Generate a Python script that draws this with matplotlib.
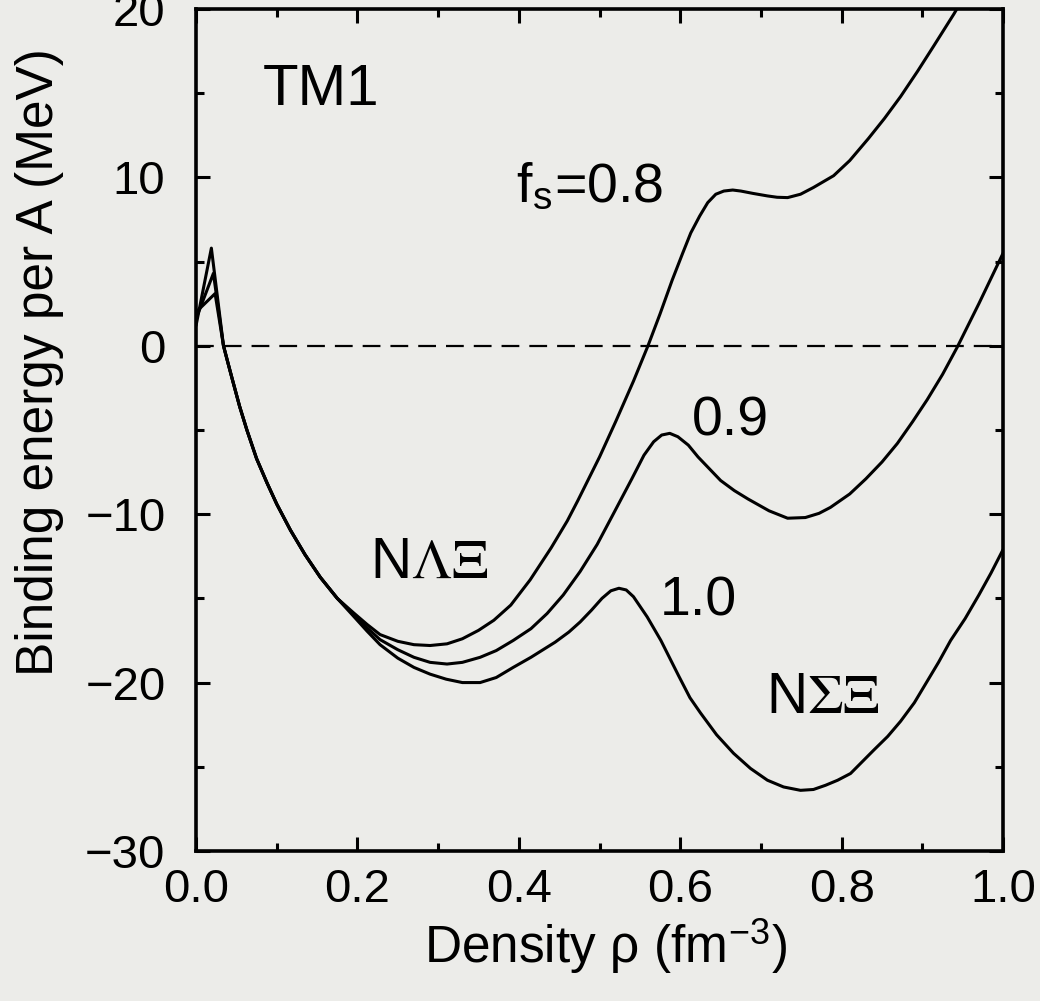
import matplotlib
matplotlib.use("Agg")
import matplotlib.pyplot as plt
from matplotlib.ticker import MultipleLocator

# binding energy per baryon vs density, TM1, three values of f_s
# shared low-density branch where the three curves coincide
rho_low = [0.034, 0.040, 0.045, 0.054, 0.063, 0.075, 0.088, 0.100, 0.117, 0.135, 0.154, 0.175]
e_low = [0.0, -1.1, -2.0, -3.6, -5.0, -6.7, -8.15, -9.4, -10.95, -12.4, -13.75, -15.0]

rho_08 = [0.0, 0.019] + rho_low + [
    0.195, 0.212, 0.228, 0.25, 0.27, 0.29, 0.311, 0.33, 0.35, 0.369, 0.39, 0.414, 0.44, 0.46, 0.473,
    0.50, 0.52, 0.542, 0.56, 0.575, 0.59, 0.603, 0.613, 0.624, 0.634, 0.644, 0.654,
    0.665, 0.675, 0.69, 0.708, 0.72, 0.733, 0.749, 0.765, 0.79, 0.81, 0.833, 0.853,
    0.873, 0.894, 0.914, 0.939, 0.95]
e_08 = [1.2, 5.8] + e_low + [
    -15.85, -16.55, -17.15, -17.55, -17.75, -17.8, -17.7, -17.4, -16.9, -16.3, -15.4, -13.9, -12.0, -10.4, -9.2,
    -6.6, -4.5, -2.1, 0.0, 1.9, 3.9, 5.5, 6.7, 7.7, 8.5, 9.0, 9.19,
    9.25, 9.19, 9.05, 8.9, 8.82, 8.8, 9.0, 9.4, 10.1, 11.0, 12.3, 13.5,
    14.8, 16.3, 17.8, 19.7, 20.6]

rho_09 = [0.0, 0.0215] + rho_low + [
    0.195, 0.212, 0.228, 0.25, 0.27, 0.29, 0.311, 0.33, 0.352, 0.372, 0.393, 0.415, 0.435, 0.455, 0.476,
    0.497, 0.518, 0.54, 0.555, 0.567, 0.577, 0.587, 0.597, 0.61, 0.622, 0.636, 0.65,
    0.667, 0.684, 0.71, 0.733, 0.755, 0.772, 0.786, 0.81, 0.83, 0.85, 0.869, 0.888,
    0.906, 0.925, 0.943, 0.97, 1.0]
e_09 = [1.6, 4.3] + e_low + [
    -15.95, -16.75, -17.45, -18.05, -18.5, -18.8, -18.9, -18.8, -18.5, -18.1, -17.5, -16.8, -15.9, -14.8, -13.4,
    -11.8, -9.9, -7.9, -6.5, -5.7, -5.3, -5.2, -5.4, -5.9, -6.6, -7.3, -8.0,
    -8.6, -9.1, -9.8, -10.24, -10.2, -9.95, -9.6, -8.8, -7.9, -6.9, -5.8, -4.5,
    -3.2, -1.7, -0.1, 2.5, 5.5]

rho_10 = [0.0, 0.0236] + rho_low + [
    0.195, 0.212, 0.228, 0.25, 0.27, 0.29, 0.31, 0.33, 0.352, 0.372, 0.393, 0.415, 0.445, 0.462, 0.476,
    0.49, 0.503, 0.514, 0.524, 0.533, 0.542, 0.559, 0.576, 0.598, 0.612, 0.625, 0.645,
    0.666, 0.687, 0.708, 0.728, 0.749, 0.765, 0.78, 0.795, 0.811, 0.84, 0.857, 0.873,
    0.89, 0.905, 0.92, 0.935, 0.953, 0.97, 0.985, 1.0]
e_10 = [2.0, 3.1] + e_low + [
    -16.05, -16.95, -17.75, -18.55, -19.1, -19.5, -19.8, -20.0, -20.0, -19.7, -19.1, -18.5, -17.6, -17.0, -16.4,
    -15.7, -15.0, -14.55, -14.4, -14.5, -14.9, -16.1, -17.5, -19.6, -20.9, -21.8, -23.1,
    -24.2, -25.1, -25.8, -26.2, -26.4, -26.35, -26.1, -25.8, -25.4, -24.0, -23.2, -22.3,
    -21.2, -20.0, -18.8, -17.5, -16.2, -14.8, -13.5, -12.1]

plt.rcParams['font.family'] = ['Liberation Sans', 'DejaVu Sans']
plt.rcParams['mathtext.fontset'] = 'stix'

bg = '#ecece9'
fig = plt.figure(figsize=(10.4, 10.01), dpi=100, facecolor=bg)
ax = fig.add_axes([0.1885, 0.1499, 0.776, 0.8411], facecolor=bg)

for x, y in [(rho_08, e_08), (rho_09, e_09), (rho_10, e_10)]:
    ax.plot(x, y, color='black', lw=2.2, solid_joinstyle='round', solid_capstyle='round')

ax.axhline(0, color='black', lw=1.6, dashes=(8, 4.5))

ax.set_xlim(0, 1.0)
ax.set_ylim(-30, 20)
ax.xaxis.set_major_locator(MultipleLocator(0.2))
ax.xaxis.set_minor_locator(MultipleLocator(0.1))
ax.yaxis.set_major_locator(MultipleLocator(10))
ax.yaxis.set_minor_locator(MultipleLocator(5))
ax.xaxis.set_major_formatter(plt.FuncFormatter(lambda v, p: '%.1f' % v))
ax.tick_params(which='both', direction='in', top=True, right=True, width=2.2, labelsize=34)
ax.tick_params(which='major', length=10)
ax.tick_params(which='minor', length=6)
ax.tick_params(axis='x', pad=12)
ax.tick_params(axis='y', pad=22)
for s in ax.spines.values():
    s.set_linewidth(2.6)

ax.set_xlabel('Density ρ (fm$^{\\mathregular{-3}}$)', fontsize=37)
ax.xaxis.set_label_coords(0.507, -0.078)
ax.set_ylabel('Binding energy per A (MeV)', fontsize=37)
ax.yaxis.set_label_coords(-0.163, 0.58)

ax.text(0.083, 15.2, 'TM1', fontsize=42, ha='left', va='center')
ax.text(0.396, 9.4, 'f$_\\mathregular{s}$=0.8', fontsize=40, ha='left', va='center')
ax.text(0.614, -4.5, '0.9', fontsize=40, ha='left', va='center')
ax.text(0.574, -15.2, '1.0', fontsize=40, ha='left', va='center')
ax.text(0.216, -12.9, 'N$\\Lambda\\Xi$', fontsize=41, ha='left', va='center')
ax.text(0.706, -20.9, 'N$\\Sigma\\Xi$', fontsize=41, ha='left', va='center')

fig.savefig('out.png', dpi=100, facecolor=bg)
